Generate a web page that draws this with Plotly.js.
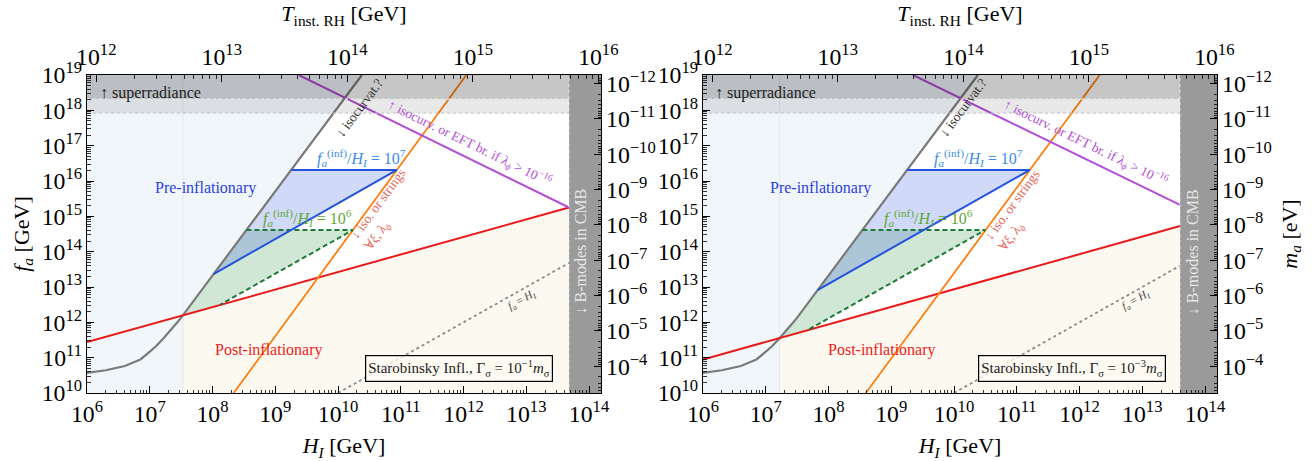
<!DOCTYPE html>
<html><head><meta charset="utf-8">
<script src="https://cdn.plot.ly/plotly-3.0.1.min.js"></script>
<style>html,body{margin:0;padding:0;background:#fff;} #plot{width:1313px;height:461px;}</style>
</head><body><div id="plot"></div>
<script>
const FONT = '"Liberation Serif", "DejaVu Serif", serif';

// ---------- shared data (H_I and f_a in GeV) ----------
// grey isocurvature curve
const isoH = [1e6, 2e6, 4e6, 7.1e6, 9.3e6, 1.26e7, 1.66e7, 2.24e7, 2.82e7, 3.39e7, 2.4e10];
const isoF = [3.7e10, 4.4e10, 5.8e10, 8.9e10, 1.32e11, 2.1e11, 3.55e11, 6.3e11, 1.05e12, 1.6e12, 1e19];
// superradiance bands (f_a limits)
const srOuter = [8.3e17, 1e19];
const srInner = [2.1e18, 1e19];

// ---------- left panel: Gamma = 1e-1 m_sigma ----------
const bmodeH_L = 4.8e13;
const redH_L = [1e6, 4.8e13];      const redF_L = [2.75e11, 1.78e15];
const purpleH_L = [2.37e9, 4.8e13]; const purpleF_L = [1e19, 1.78e15];
const orangeH_L = [2.17e8, 1.11e12]; const orangeF_L = [1e10, 1e19];
const crossH_L = 3.39e7; const crossF_L = 1.6e12;
const blueH_L = [1.795e9, 8.7e10, 1.04e8];  const blueF_L = [2.05e16, 2.05e16, 2.33e13];
const greenH_L = [3.475e8, 1.73e10, 1.34e8]; const greenF_L = [4.1e14, 4.1e14, 3.19e12];
const fhH_L = [1e10, 4.8e13]; const fhF_L = [1e10, 4.8e13];

// ---------- right panel: Gamma = 1e-3 m_sigma ----------
const bmodeH_R = 4.0e13;
const redH_R = [1e6, 4.0e13];      const redF_R = [8.9e10, 5.3e14];
const purpleH_R = [2.22e9, 4.0e13]; const purpleF_R = [1e19, 2.1e15];
const orangeH_R = [3.93e8, 2.1e12]; const orangeF_R = [1e10, 1e19];
const crossH_R = 1.66e7; const crossF_R = 3.6e11;
const blueH_R = [1.795e9, 1.62e11, 6.68e7];  const blueF_R = [2.05e16, 2.05e16, 8.2e12];
const greenH_R = [3.475e8, 3.16e10, 4.72e7]; const greenF_R = [4.1e14, 4.1e14, 6.12e11];
const fhH_R = [1e10, 4.0e13]; const fhF_R = [1e10, 4.0e13];

// ---------- helpers ----------
function poly(xs, ys, color, xa, ya) {
  return {type:'scatter', mode:'lines', x:xs, y:ys, fill:'toself', fillcolor:color,
          line:{width:0, color:color}, hoverinfo:'skip', showlegend:false, xaxis:xa, yaxis:ya};
}
function ln(xs, ys, color, width, dash, xa, ya) {
  return {type:'scatter', mode:'lines', x:xs, y:ys, line:{color:color, width:width, dash:dash||'solid'},
          hoverinfo:'skip', showlegend:false, xaxis:xa, yaxis:ya};
}
const HMIN = 1e6, HMAX = 2e14, FMIN = 1e10, FMAX = 1e19;

function panelTraces(p, xa, ya) {
  const t = [];
  const gi = isoH.map((h,i)=>i).filter(i => isoH[i] > p.crossH);
  t.push(poly([HMIN, p.crossH, p.crossH].concat(gi.map(i=>isoH[i])).concat([HMIN]),
              [FMIN, FMIN, p.crossF].concat(gi.map(i=>isoF[i])).concat([FMAX]), '#f1f6fa', xa, ya));
  t.push(poly([p.crossH, p.crossH, p.redH[1], p.redH[1]], [FMIN, p.crossF, p.redF[1], FMIN], '#fcf9f1', xa, ya));
  t.push(ln([p.crossH, p.crossH], [FMIN, FMAX], '#e1e9ef', 1, 'solid', xa, ya));
  const gg = isoH.map((h,i)=>i).filter(i => isoH[i] > p.crossH && isoH[i] < p.greenH[0]);
  t.push(poly(p.greenH.concat([p.crossH]).concat(gg.map(i=>isoH[i])),
              p.greenF.concat([p.crossF]).concat(gg.map(i=>isoF[i])), 'rgba(40,140,60,0.21)', xa, ya));
  t.push(poly(p.blueH, p.blueF, 'rgba(40,80,225,0.22)', xa, ya));
  t.push(ln(p.fhH, p.fhF, '#8c8c8c', 1.8, 'dot', xa, ya));
  t.push(ln(isoH, isoF, '#7a7a7a', 2.2, 'solid', xa, ya));
  t.push(ln(p.redH, p.redF, '#e8191b', 2, 'solid', xa, ya));
  t.push(ln(p.orangeH, p.orangeF, '#ff7f0e', 1.8, 'solid', xa, ya));
  t.push(ln(p.purpleH, p.purpleF, '#b24fd6', 2, 'solid', xa, ya));
  t.push(ln(p.greenH, p.greenF, '#1e7a34', 2, '5px,3px', xa, ya));
  t.push(ln(p.blueH, p.blueF, '#2353dc', 2, 'solid', xa, ya));
  t.push(poly([HMIN, HMAX, HMAX, HMIN], [srOuter[0], srOuter[0], srOuter[1], srOuter[1]], 'rgba(0,0,0,0.09)', xa, ya));
  t.push(poly([HMIN, HMAX, HMAX, HMIN], [srInner[0], srInner[0], srInner[1], srInner[1]], 'rgba(0,0,0,0.145)', xa, ya));
  t.push(ln([HMIN, HMAX], [srOuter[0], srOuter[0]], 'rgba(200,200,200,0.9)', 1.2, 'dot', xa, ya));
  t.push(ln([HMIN, HMAX], [srInner[0], srInner[0]], 'rgba(225,225,225,0.9)', 1.5, 'dot', xa, ya));
  t.push(poly([p.bmodeH, HMAX, HMAX, p.bmodeH], [FMIN, FMIN, FMAX, FMAX], '#9a9a9a', xa, ya));
  t.push(ln([p.bmodeH, p.bmodeH], [FMIN, FMAX], 'rgba(235,235,235,0.8)', 1, 'dot', xa, ya));
  return t;
}

const L = {bmodeH:bmodeH_L, redH:redH_L, redF:redF_L, purpleH:purpleH_L, purpleF:purpleF_L,
  orangeH:orangeH_L, orangeF:orangeF_L, crossH:crossH_L, crossF:crossF_L,
  blueH:blueH_L, blueF:blueF_L, greenH:greenH_L, greenF:greenF_L, fhH:fhH_L, fhF:fhF_L};
const R = {bmodeH:bmodeH_R, redH:redH_R, redF:redF_R, purpleH:purpleH_R, purpleF:purpleF_R,
  orangeH:orangeH_R, orangeF:orangeF_R, crossH:crossH_R, crossF:crossF_R,
  blueH:blueH_R, blueF:blueF_R, greenH:greenH_R, greenF:greenF_R, fhH:fhH_R, fhF:fhF_R};

const traces = panelTraces(L, 'x', 'y').concat(panelTraces(R, 'x2', 'y2'));
traces.push({type:'scatter', mode:'markers', x:[1e13], y:[1e-8], marker:{opacity:0}, xaxis:'x3', yaxis:'y3', hoverinfo:'skip', showlegend:false});
traces.push({type:'scatter', mode:'markers', x:[1e13], y:[1e-8], marker:{opacity:0}, xaxis:'x4', yaxis:'y4', hoverinfo:'skip', showlegend:false});

// ---------- axes ----------
const DXL = [87/1313, 601/1313], DXR = [703/1313, 1217/1313], DY = [1-393/461, 1-75/461];
const XR = [6, 14.191];          // log10 H_I
const TR = [11.926, 16.0215];    // log10 T_inst.RH
const YR = [10, 19];             // log10 f_a
const MR = [-3.244, -12.244];    // log10 m_a (reversed)
function ax(extra) {
  return Object.assign({type:'log', showline:true, linecolor:'#000', linewidth:1.2, mirror:false,
    ticks:'inside', ticklen:7, tickwidth:1, tickcolor:'#000', showgrid:false, zeroline:false,
    exponentformat:'power', dtick:1, tickfont:{family:FONT, size:19, color:'#000'},
    minor:{ticks:'inside', ticklen:3.5, tickwidth:0.8, tickcolor:'#000', showgrid:false}}, extra);
}
const titleFont = {family:FONT, size:22, color:'#000'};
const layout = {
  width:1313, height:461, margin:{l:0, r:0, t:0, b:0},
  paper_bgcolor:'#fff', plot_bgcolor:'#fff', showlegend:false,
  font:{family:FONT},
  xaxis: ax({domain:DXL, range:XR, anchor:'y', title:{text:'<i>H<sub>I</sub></i> [GeV]', font:titleFont, standoff:31}}),
  yaxis: ax({domain:DY, range:YR, anchor:'x', title:{text:'<i>f<sub>a</sub></i> [GeV]', font:titleFont, standoff:6}}),
  xaxis3: ax({overlaying:'x', side:'top', anchor:'y', range:TR, title:{text:'<i>T</i><sub>inst. RH</sub> [GeV]', font:titleFont, standoff:12}}),
  yaxis3: ax({overlaying:'y', side:'right', anchor:'x', range:MR}),
  xaxis2: ax({domain:DXR, range:XR, anchor:'y2', title:{text:'<i>H<sub>I</sub></i> [GeV]', font:titleFont, standoff:31}}),
  yaxis2: ax({domain:DY, range:YR, anchor:'x2'}),
  xaxis4: ax({overlaying:'x2', side:'top', anchor:'y2', range:TR, title:{text:'<i>T</i><sub>inst. RH</sub> [GeV]', font:titleFont, standoff:12}}),
  yaxis4: ax({overlaying:'y2', side:'right', anchor:'x2', range:MR, title:{text:'<i>m<sub>a</sub></i> [eV]', font:titleFont, standoff:10}}),
};

// ---------- annotations (positions in log10 units) ----------
function ann(xa, ya, x, y, text, o) {
  return Object.assign({xref:xa, yref:ya, x:x, y:y, text:text, showarrow:false,
    font:{family:FONT, size:15, color:'#222'}, xanchor:'center', yanchor:'middle'}, o||{});
}
const T_sr = '↑ superradiance';
const T_pre = 'Pre-inflationary';
const T_post = 'Post-inflationary';
const T_blue = '<i>f<sub>a</sub></i><sup>(inf)</sup>/<i>H<sub>I</sub></i> = 10<sup>7</sup>';
const T_green = '<i>f<sub>a</sub></i><sup>(inf)</sup>/<i>H<sub>I</sub></i> = 10<sup>6</sup>';
const T_iso = '↓ isocurvat.?';
const T_orange = '↓ iso. or strings<br>∀<i>ξ</i>, <i>λ<sub>ϕ</sub></i>';
const T_purple = '↑ isocurv. or EFT br. if <i>λ<sub>ϕ</sub></i> &gt; 10<sup>−16</sup>';
const T_bm = '↓ B-modes in CMB';
const T_fh = '<i>f<sub>a</sub></i> = <i>H<sub>I</sub></i>';
const T_boxL = 'Starobinsky Infl., Γ<sub>σ</sub> = 10<sup>−1</sup><i>m</i><sub>σ</sub>';
const T_boxR = 'Starobinsky Infl., Γ<sub>σ</sub> = 10<sup>−3</sup><i>m</i><sub>σ</sub>';

function panelAnn(xa, ya, q, boxText) {
  return [
    ann(xa, ya, q.sr, 18.5, T_sr, {xanchor:'left', font:{family:FONT, size:16, color:'#222'}}),
    ann(xa, ya, q.pre, 15.80, T_pre, {font:{family:FONT, size:16, color:'#2b3fe0'}}),
    ann(xa, ya, q.post, 11.22, T_post, {font:{family:FONT, size:16, color:'#ee1c1c'}}),
    ann(xa, ya, q.blue, 16.66, T_blue, {font:{family:FONT, size:16, color:'#3a8de8'}}),
    ann(xa, ya, q.green, 14.96, T_green, {font:{family:FONT, size:16, color:'#5fa830'}}),
    ann(xa, ya, q.iso, 18.07, T_iso, {textangle:-53.3, font:{family:FONT, size:13.5, color:'#333'}}),
    ann(xa, ya, q.orX, q.orY, T_orange, {textangle:-53.8, align:'left', font:{family:FONT, size:13.5, color:'#e8675b'}}),
    ann(xa, ya, q.pu, 17.075, T_purple, {textangle:26, font:{family:FONT, size:13.5, color:'#b24fd6'}}),
    ann(xa, ya, q.bm, 14.0, T_bm, {textangle:-90, font:{family:FONT, size:16, color:'#e6e6e6'}}),
    ann(xa, ya, q.fh, 12.63, T_fh, {textangle:-29.4, font:{family:FONT, size:11, color:'#444'}}),
    ann(xa, ya, q.box, 10.68, boxText, {font:{family:FONT, size:15, color:'#222'}, bordercolor:'#000', borderwidth:1.2, borderpad:2, bgcolor:'rgba(253,250,243,0.8)'})
  ];
}
layout.annotations = panelAnn('x', 'y', {sr:6.17, pre:7.896, post:8.90, blue:10.38, green:9.506, iso:10.35, orX:10.75, orY:15.19, pu:12.10, bm:13.87, fh:12.93, box:11.93}, T_boxL)
  .concat(panelAnn('x2', 'y2', {sr:6.16, pre:7.865, post:8.853, blue:10.39, green:9.586, iso:10.15, orX:11.04, orY:15.16, pu:12.11, bm:13.80, fh:12.90, box:11.885}, T_boxR));

Plotly.newPlot('plot', traces, layout, {staticPlot:true, displayModeBar:false});
</script>
</body></html>
